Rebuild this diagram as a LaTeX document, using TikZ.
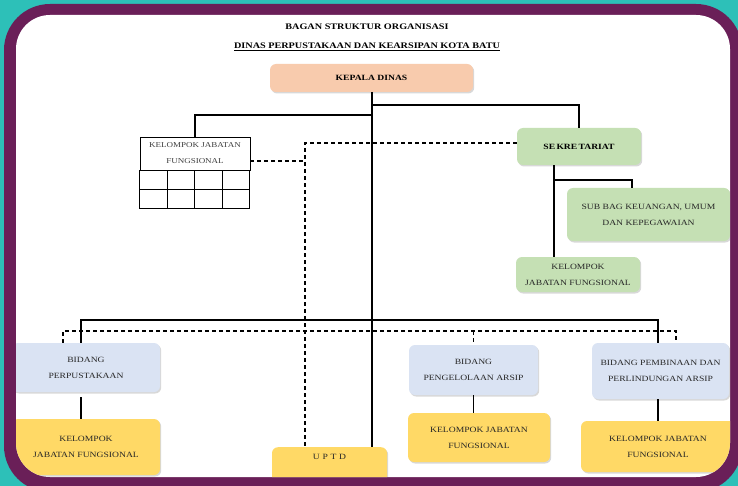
\documentclass[tikz,border=0pt]{standalone}
\usepackage{fontspec}
\setmainfont[FakeStretch=1.2]{Liberation Serif}
\usetikzlibrary{shadows,calc}

\definecolor{sea}{HTML}{2DC0B8}
\definecolor{plum}{HTML}{6A1F58}
\definecolor{peach}{HTML}{F8CBAD}
\definecolor{sage}{HTML}{C5E0B4}
\definecolor{mist}{HTML}{DAE3F3}
\definecolor{gold}{HTML}{FFD966}

\begin{document}
\begin{tikzpicture}[x=1pt,y=-1pt,
  box/.style={rounded corners=6pt, align=center, inner sep=0pt, text=black!85,
    font=\fontsize{8}{16}\selectfont,
    drop shadow={opacity=0.3,shadow xshift=1.2pt,shadow yshift=-1.5pt}},
  head/.style={box, fill=peach, text=black, font=\bfseries\fontsize{8}{16}\selectfont},
  sec/.style={box, fill=sage},
  bid/.style={box, fill=mist},
  kjf/.style={box, fill=gold},
  link/.style={line width=1.1pt},
  dlink/.style={line width=1.1pt, dash pattern=on 4pt off 3pt},
  cell/.style={line width=0.9pt}]

% frame
\useasboundingbox (0,0) rectangle (738,486);
\fill[sea] (0,0) rectangle (738,486);
\fill[plum, rounded corners=46pt] (4,4) rectangle (742,492);
\fill[white, rounded corners=34pt] (16,15) rectangle (730,477);

\begin{scope}
\clip[rounded corners=34pt] (16,15) rectangle (730,477);

% titles
\node[font=\bfseries\fontsize{8.5}{10}\selectfont] (T1) at (367,27) {BAGAN STRUKTUR ORGANISASI};
\node[font=\bfseries\fontsize{8.5}{10}\selectfont] (T2) at (367,47) {\underline{DINAS PERPUSTAKAAN DAN KEARSIPAN KOTA BATU}};

% boxes
\node[head, minimum width=203pt, minimum height=28pt] (K) at (371.5,78) {KEPALA DINAS};
\node[sec, minimum width=124pt, minimum height=37pt, text=black, font=\bfseries\fontsize{8}{16}\selectfont] (S) at (579,146.5) {SE\,KRE\,TARIAT};
\node[sec, minimum width=163pt, minimum height=53pt] (SB) at (648.5,214.5) {SUB BAG KEUANGAN, UMUM\\DAN KEPEGAWAIAN};
\node[sec, minimum width=124pt, minimum height=35pt] (SK) at (578,274.5) {KELOMPOK\\JABATAN FUNGSIONAL};

\node[draw, cell, align=center, inner sep=0pt, minimum width=110pt, minimum height=33pt,
  text=black!75, font=\fontsize{7.5}{16}\selectfont] (T) at (195,153.5) {KELOMPOK JABATAN\\FUNGSIONAL};
\foreach \c in {0,...,3}
  \foreach \r in {0,1}
    \draw[cell] ($(T.south west)+(27.5*\c,19*\r)$) rectangle ++(27.5,19);

\node[bid, minimum width=148pt, minimum height=49pt] (B1) at (86,367.5) {BIDANG\\PERPUSTAKAAN};
\node[bid, minimum width=129pt, minimum height=50pt] (B2) at (473.5,370) {BIDANG\\PENGELOLAAN ARSIP};
\node[bid, minimum width=137pt, minimum height=56pt] (B3) at (660.5,371) {BIDANG PEMBINAAN DAN\\PERLINDUNGAN ARSIP};

\node[kjf, minimum width=148pt, minimum height=56pt] (J1) at (86,447) {KELOMPOK\\JABATAN FUNGSIONAL};
\node[kjf, minimum width=142pt, minimum height=49pt] (J2) at (479,437.5) {KELOMPOK JABATAN\\FUNGSIONAL};
\node[kjf, minimum width=154pt, minimum height=51pt] (J3) at (658,446.5) {KELOMPOK JABATAN\\FUNGSIONAL};
\node[kjf, anchor=north, minimum width=115pt, text height=6pt, text depth=26pt, inner ysep=6pt] (U) at (329.5,447) {U\,\,P\,\,T\,\,D};

% junctions
\coordinate (jS) at (372,105);
\coordinate (jT) at (372,115);
\coordinate (sx) at (554,180);
\coordinate (sy) at (632,180);
\coordinate (bL) at (81,320);
\coordinate (bR) at (658,320);
\coordinate (dL) at (63,331);
\coordinate (dR) at (676,331);
\coordinate (dT) at (305,143);
\coordinate (dB) at (305,161);

% solid lines
\draw[link] (K.south -| jS) -- (U.north -| jS);
\draw[link] (jS) -| (S.north);
\draw[link] (jT) -| (T.north);
\draw[link] (S.south -| sx) -- (SK.north -| sx);
\draw[link] (sx) -- (sy) -- (SB.north -| sy);
\draw[link] (B1.north -| bL) -- (bL) -- (bR) -- (B3.north -| bR);
\draw[link] ([yshift=-5pt]B1.south -| bL) -- (J1.north -| bL);
\draw[link] (B2.south) -- (J2.north -| B2.south);
\draw[link] (B3.south -| bR) -- (J3.north -| bR);

% dashed lines
\draw[dlink] (T.east |- dB) -- (dB);
\draw[dlink] (S.west |- dT) -- (dT) -- (U.north -| dT);
\draw[dlink] (B1.north -| dL) -- (dL) -- (dR) -- (B3.north -| dR);
\draw[dlink] (B2.north |- dL) -- (B2.north);
\end{scope}

\end{tikzpicture}
\end{document}
